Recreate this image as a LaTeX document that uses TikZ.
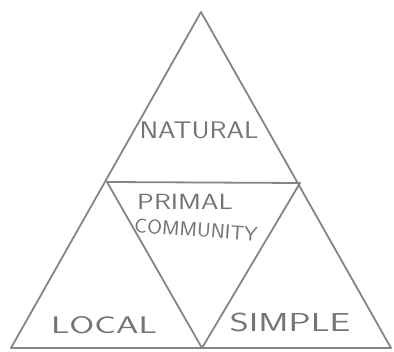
\documentclass[tikz,border=0pt]{standalone}
\usepackage{tikz}
\usetikzlibrary{calc}
\definecolor{pencil}{HTML}{858585}
\definecolor{ptext}{HTML}{747474}
\tikzset{
  edge/.style={draw=pencil, line width=1.8pt, line join=round, line cap=round},
  lab/.style={text=ptext, inner sep=0pt, font=\fontsize{24}{26}\selectfont\sffamily},
  slab/.style={lab, font=\fontsize{20}{22}\selectfont\sffamily},
}

\begin{document}
\begin{tikzpicture}[x=1pt,y=-1pt]
  \useasboundingbox (0,0) rectangle (394,352);
  % corners and midpoints
  \coordinate (top) at (201,12);
  \coordinate (bl)  at (11,348);
  \coordinate (br)  at (391,348);
  \coordinate (ml)  at (107,182);
  \coordinate (mr)  at (300,183);
  \coordinate (mb)  at (202,348);

  \draw[edge] (top) -- (br) -- (bl) -- cycle;
  \draw[edge] (ml) -- (mr) -- (mb) -- cycle;

  \node[lab, xscale=1.17] (nat) at (199,130) {NATURAL};
  \node[lab, font=\fontsize{22}{24}\selectfont\sffamily, xscale=1.27] (pri) at (185,202) {PRIMAL};
  \node[slab, xscale=1.07, rotate=-4] (com) at (196,230) {COMMUNITY};
  \node[lab, xscale=1.5] (loc) at (104,325) {LOCAL};
  \node[lab, font=\fontsize{26}{28}\selectfont\sffamily, xscale=1.42] (sim) at (290,322) {SIMPLE};
\end{tikzpicture}
\end{document}
